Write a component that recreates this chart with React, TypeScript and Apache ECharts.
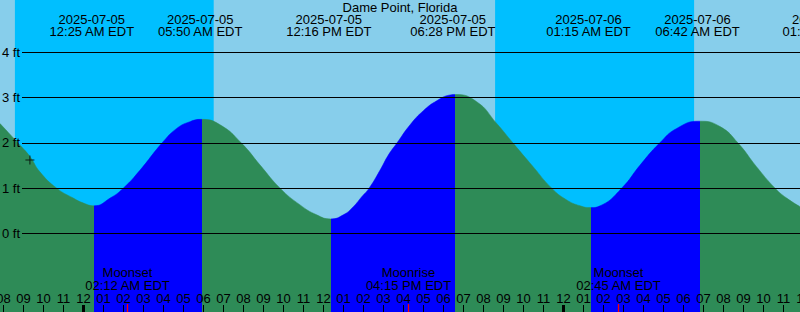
import React, { useEffect, useRef } from "react";
import * as echarts from "echarts";

const stationName = "Dame Point, Florida";
const zoneName = "EDT";
const baseDate = "2025-07-05"; // hour 0 = 00:00 EDT on this date

// Tide curve: hours after 2025-07-05 00:00 EDT, height in ft
const curveHours = [
  -4.18, -3.26, -2.68, -2.18, -1.34, -0.51, 0.0, 0.53, 1.33, 1.99, 2.83, 3.91, 4.66, 5.33, 5.88,
  6.83, 7.91, 8.83, 9.83, 10.83, 11.66, 12.36, 12.99, 13.49, 13.91, 14.28, 14.83, 15.24, 15.66,
  16.33, 16.99, 17.66, 18.33, 18.58, 19.66, 20.66, 21.49, 22.49, 23.41, 24.16, 24.83, 25.36,
  25.83, 26.91, 27.83, 28.79, 29.66, 30.79, 31.83, 32.74, 33.66, 34.58, 35.16, 35.83,
];
const curveFeet = [
  2.43, 1.99, 1.7, 1.36, 1.0, 0.78, 0.67, 0.61, 0.78, 1.0, 1.4, 1.99, 2.32, 2.47, 2.52,
  2.4, 1.99, 1.51, 1.0, 0.63, 0.41, 0.32, 0.41, 0.59, 0.81, 1.0, 1.4, 1.73, 1.99,
  2.4, 2.71, 2.93, 3.06, 3.07, 2.91, 2.43, 1.99, 1.47, 1.0, 0.74, 0.61, 0.57,
  0.61, 1.0, 1.51, 1.99, 2.32, 2.48, 2.36, 1.99, 1.47, 1.0, 0.78, 0.59,
];

// High / low tide events (labels at the top)
const tideEventDates = ["2025-07-05", "2025-07-05", "2025-07-05", "2025-07-05", "2025-07-06", "2025-07-06", "2025-07-06"];
const tideEventTimes = ["12:25 AM", "05:50 AM", "12:16 PM", "06:28 PM", "01:15 AM", "06:42 AM", "01:05 PM"];

// Rising tide (flood) intervals, hours
const floodStartHours = [0.53, 12.37, 25.37];
const floodEndHours = [5.92, 18.58, 30.82];

// Night: sunset to sunrise, hours
const sunsetHours = [-3.43, 20.58];
const sunriseHours = [6.51, 30.53];

// Moon events
const moonEventNames = ["Moonset", "Moonrise", "Moonset"];
const moonEventDates = ["2025-07-05", "2025-07-05", "2025-07-06"];
const moonEventTimes = ["02:12 AM", "04:15 PM", "02:45 AM"];

const midnightDates = ["2025-07-05", "2025-07-06"];
const gridFeet = [0, 1, 2, 3, 4];

// "+" marker on the curve
const markerHour = -2.68;
const markerFeet = 1.62;

const FONT = '"Liberation Sans", Arial, Helvetica, sans-serif';
const DAY = "#87CEEB";
const NIGHT = "#00BFFF";
const FLOOD = "#0000FF";
const EBB = "#2E8B57";

function dayOffset(date: string): number {
  const [y, m, d] = date.split("-").map(Number);
  const [by, bm, bd] = baseDate.split("-").map(Number);
  return Math.round((Date.UTC(y, m - 1, d) - Date.UTC(by, bm - 1, bd)) / 86400000);
}
function toHours(date: string, time: string): number {
  const [hm, ap] = time.split(" ");
  const [h, m] = hm.split(":").map(Number);
  const h24 = (h % 12) + (ap === "PM" ? 12 : 0);
  return dayOffset(date) * 24 + h24 + m / 60;
}

const xMin = -5;
const xMax = 36;
const yMin = -1.737;
const yMax = 5.158;
const gridLineStartHour = -3.075;

export default function App() {
  const ref = useRef<HTMLDivElement>(null);
  useEffect(() => {
    if (!ref.current) return;
    const chart = echarts.init(ref.current, null, { renderer: "svg" });

    const pieces: any[] = [];
    let prev = -Infinity;
    floodStartHours.forEach((s, i) => {
      pieces.push({ gte: prev, lt: s, color: EBB });
      pieces.push({ gte: s, lt: floodEndHours[i], color: FLOOD });
      prev = floodEndHours[i];
    });
    pieces.push({ gte: prev, color: EBB });

    const tideLabelData = tideEventDates.map((d, i) => [toHours(d, tideEventTimes[i]), i]);
    const moonLabelData = moonEventDates.map((d, i) => [toHours(d, moonEventTimes[i]), i]);
    const tickData = [
      ...midnightDates.map((d) => [dayOffset(d) * 24, 0]),
      ...moonLabelData.map((m) => [m[0], 1]),
    ];

    const txt = (text: string, x: number, y: number) => ({
      type: "text",
      x,
      y,
      style: {
        text,
        fill: "#000",
        fontSize: 13,
        fontFamily: FONT,
        align: "center",
        verticalAlign: "middle",
      },
    });

    chart.setOption({
      animation: false,
      title: {
        text: stationName,
        left: "center",
        top: 1,
        padding: 0,
        textStyle: { fontSize: 13, fontWeight: "normal", color: "#000", fontFamily: FONT },
      },
      grid: {
        left: -16.5,
        right: -3.5,
        top: 0,
        bottom: 0,
        containLabel: false,
        outerBoundsMode: "none",
        show: true,
        backgroundColor: DAY,
        borderWidth: 0,
      },
      xAxis: {
        type: "value",
        min: xMin,
        max: xMax,
        interval: 1,
        z: 10,
        axisLine: { show: false, onZero: false },
        axisTick: { show: true, inside: true, length: 7, lineStyle: { color: "#000", width: 1 } },
        axisLabel: {
          inside: true,
          margin: 14,
          verticalAlign: "middle",
          interval: 0,
          showMinLabel: true,
          showMaxLabel: true,
          hideOverlap: false,
          color: "#000",
          fontSize: 13,
          fontFamily: FONT,
          formatter: (v: number) => {
            const h = ((Math.round(v) % 12) + 12) % 12 || 12;
            return String(h).padStart(2, "0");
          },
        },
        splitLine: { show: false },
      },
      yAxis: { type: "value", min: yMin, max: yMax, show: false },
      visualMap: {
        type: "piecewise",
        show: false,
        dimension: 0,
        seriesIndex: 1,
        pieces,
      },
      series: [
        {
          type: "line",
          data: [],
          z: 1,
          silent: true,
          markArea: {
            silent: true,
            itemStyle: { color: NIGHT, opacity: 1 },
            data: sunsetHours.map((s, i) => [{ xAxis: s }, { xAxis: sunriseHours[i] }]),
          },
        },
        {
          type: "line",
          z: 2,
          silent: true,
          data: curveHours.map((h, i) => [h, curveFeet[i]]),
          smooth: 0.5,
          showSymbol: false,
          symbol: "none",
          lineStyle: { width: 0.5 },
          areaStyle: { origin: "start", opacity: 1 },
        },
        {
          type: "line",
          data: [],
          z: 3,
          silent: true,
          markLine: {
            silent: true,
            symbol: ["none", "none"],
            lineStyle: { color: "#000", width: 1, type: "solid" },
            label: { show: true, position: "start", distance: 2, color: "#000", fontSize: 13, fontFamily: FONT },
            data: gridFeet.map((v) => [
              { coord: [gridLineStartHour, v], label: { formatter: `${v} ft` } },
              { coord: [xMax, v] },
            ]),
          },
        },
        {
          type: "custom",
          z: 11,
          silent: true,
          data: tickData,
          renderItem: (params: any, api: any) => {
            const t = api.value(0);
            const kind = api.value(1);
            const p = api.coord([t, yMin]);
            const w = kind === 0 ? 3 : 1.3;
            const len = kind === 0 ? 7 : 8;
            return {
              type: "rect",
              shape: { x: p[0] - w / 2, y: p[1] - len, width: w, height: len },
              style: { fill: kind === 0 ? "#000" : "#FF0000" },
            };
          },
        },
        {
          type: "custom",
          z: 12,
          silent: true,
          data: tideLabelData,
          renderItem: (params: any, api: any) => {
            const t = api.value(0);
            const i = api.value(1);
            const x = api.coord([t, 0])[0];
            return {
              type: "group",
              children: [
                txt(tideEventDates[i], x, 19.5),
                txt(`${tideEventTimes[i]} ${zoneName}`, x, 31.5),
              ],
            };
          },
        },
        {
          type: "custom",
          z: 12,
          silent: true,
          data: moonLabelData,
          renderItem: (params: any, api: any) => {
            const t = api.value(0);
            const i = api.value(1);
            const x = api.coord([t, 0])[0];
            return {
              type: "group",
              children: [
                txt(moonEventNames[i], x, 272.5),
                txt(`${moonEventTimes[i]} ${zoneName}`, x, 285),
              ],
            };
          },
        },
        {
          type: "scatter",
          z: 13,
          silent: true,
          data: [[markerHour, markerFeet]],
          symbol: "path://M0,4H9V5H0Z M4,0H5V9H4Z",
          symbolSize: 9,
          itemStyle: { color: "#000" },
        },
      ],
    });
    return () => chart.dispose();
  }, []);
  return (
    <div
      ref={ref}
      style={{ position: "absolute", left: 0, top: 0, width: 800, height: 312 }}
    />
  );
}
